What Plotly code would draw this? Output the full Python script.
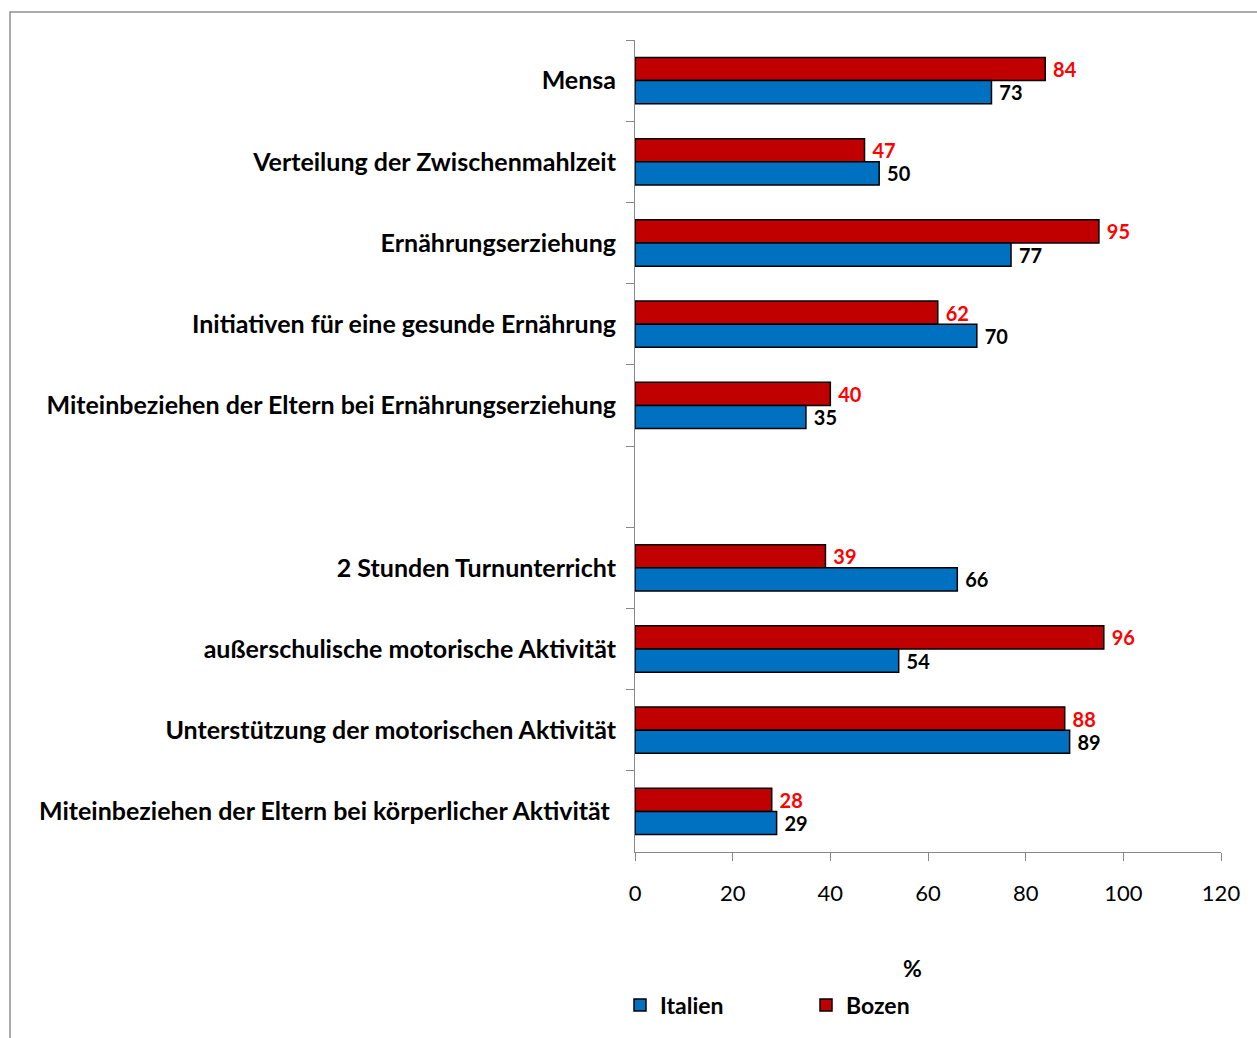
import plotly.graph_objects as go

categories = [
    "Mensa",
    "Verteilung der Zwischenmahlzeit",
    "Ernährungserziehung",
    "Initiativen für eine gesunde Ernährung",
    "Miteinbeziehen der Eltern bei Ernährungserziehung",
    " ",
    "2 Stunden Turnunterricht",
    "außerschulische motorische Aktivität",
    "Unterstützung der motorischen Aktivität",
    "Miteinbeziehen der Eltern bei körperlicher Aktivität ",
]
bozen = [84, 47, 95, 62, 40, None, 39, 96, 88, 28]
italien = [73, 50, 77, 70, 35, None, 66, 54, 89, 29]
x_ticks = [0, 20, 40, 60, 80, 100, 120]

FONT = "Lato"
W, H = 1257, 1038
L, R, T, B = 635, 1221, 40, 852

def px_x(p):
    return (p - L) / (R - L)

def px_y(p):
    return (B - p) / (B - T)

def lab(v):
    return "" if v is None else "\u00a0" + str(v)

fig = go.Figure()
fig.add_trace(go.Bar(
    name="Bozen", y=categories, x=bozen, orientation="h",
    marker=dict(color="#C00000", line=dict(color="black", width=1.5)),
    text=[lab(v) for v in bozen],
    textposition="outside", cliponaxis=False, constraintext="none",
    textfont=dict(family=FONT, size=20, color="#FF0000", weight="bold"),
    legendrank=2,
))
fig.add_trace(go.Bar(
    name="Italien", y=categories, x=italien, orientation="h",
    marker=dict(color="#0070C0", line=dict(color="black", width=1.5)),
    text=[lab(v) for v in italien],
    textposition="outside", cliponaxis=False, constraintext="none",
    textfont=dict(family=FONT, size=20, color="black", weight="bold"),
    legendrank=1,
))

fig.update_layout(
    width=W, height=H,
    margin=dict(l=L, r=W - R, t=T, b=H - B),
    paper_bgcolor="white", plot_bgcolor="white",
    barmode="group", bargap=0.43, bargroupgap=0,
    font=dict(family=FONT, size=22, color="black"),
    showlegend=True,
    legend=dict(
        orientation="h", x=px_x(620), y=px_y(1005), xanchor="left", yanchor="middle",
        font=dict(family=FONT, size=23, color="black", weight="bold"),
        entrywidth=141, entrywidthmode="pixels", itemwidth=30,
        traceorder="normal",
    ),
    xaxis=dict(
        range=[0, 120], tickvals=x_ticks, ticks="outside", ticklen=8,
        tickcolor="#888888", showline=True, linecolor="#888888", linewidth=1,
        showgrid=False, zeroline=False,
        tickfont=dict(family=FONT, size=22, color="black"),
        ticklabelstandoff=14,
    ),
    yaxis=dict(
        categoryorder="array", categoryarray=categories, autorange="reversed",
        ticks="outside", ticklen=8, tickson="boundaries", tickcolor="#888888",
        showline=True, linecolor="#888888", linewidth=1, showgrid=False,
        tickfont=dict(family=FONT, size=25, color="black", weight="bold"),
        ticklabelstandoff=13,
    ),
    annotations=[dict(
        text="<b>%</b>", xref="paper", yref="paper", x=px_x(912), y=px_y(968),
        xanchor="center", yanchor="middle", showarrow=False,
        font=dict(family=FONT, size=23, color="black"),
    )],
    shapes=[dict(
        type="rect", xref="paper", yref="paper",
        x0=px_x(10), x1=px_x(1262), y0=px_y(1045), y1=px_y(12),
        line=dict(color="#909090", width=1.5), fillcolor="rgba(0,0,0,0)", layer="below",
    )],
)

fig.write_html("out.html")
